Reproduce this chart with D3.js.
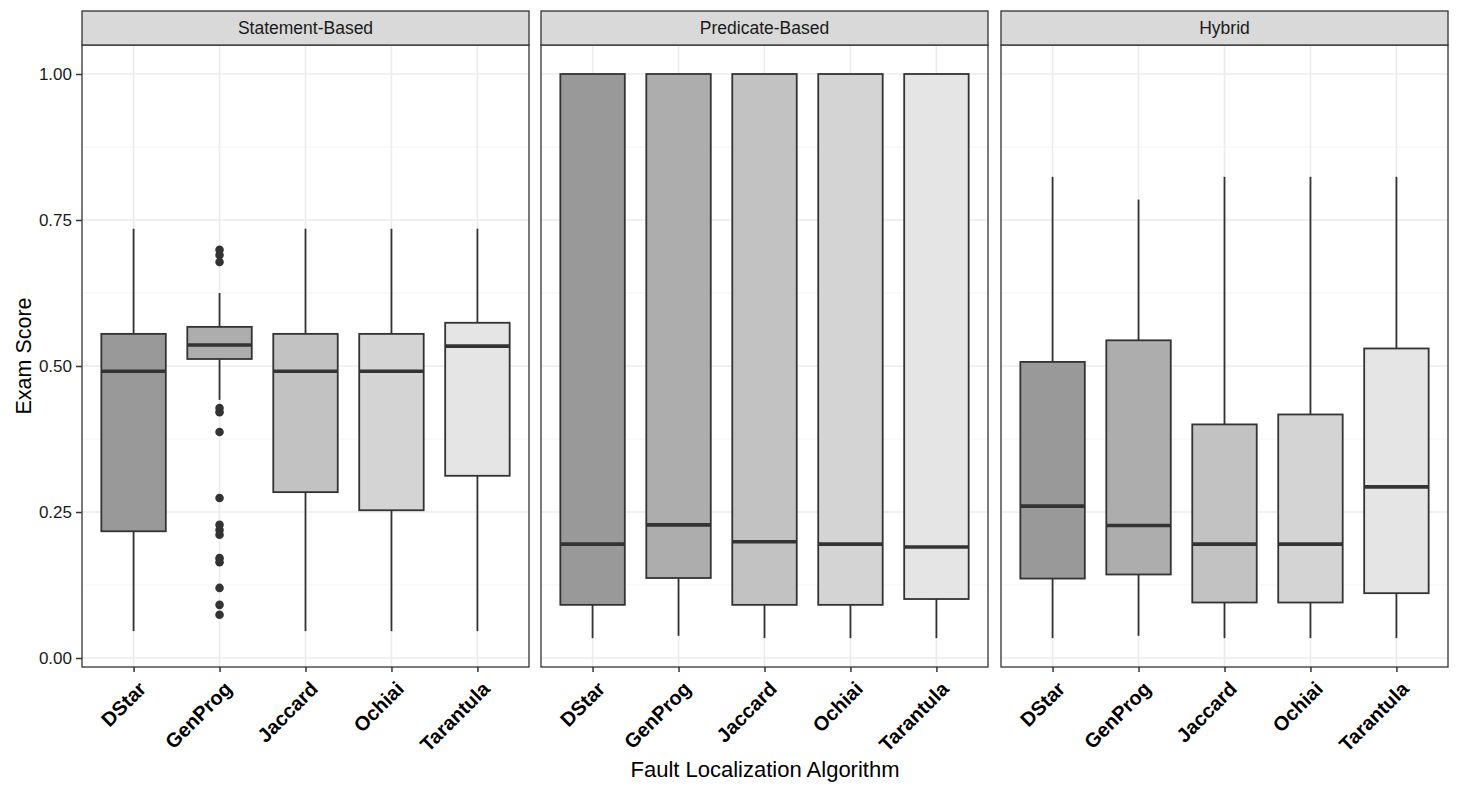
<!DOCTYPE html>
<html>
<head>
<meta charset="utf-8">
<title>exam score boxplots</title>
<script src="https://cdn.jsdelivr.net/npm/d3@7"></script>
<style>
	body, html{
		margin: 0;
		padding: 0;
		background: #fff;
		font-family: "Liberation Sans", Arial, sans-serif;
	}
	svg{
		display: block;
	}
</style>
</head>
<body>
<svg id="chart" width="1459" height="790"></svg>
<script>
// data
var facets = ['Statement-Based', 'Predicate-Based', 'Hybrid'],
	algorithms = ['DStar', 'GenProg', 'Jaccard', 'Ochiai', 'Tarantula'],
	fills = ['#999999', '#adadad', '#c2c2c2', '#d4d4d4', '#e5e5e5'],
	yTicks = [0, 0.25, 0.5, 0.75, 1],
	yMinor = [0.125, 0.375, 0.625, 0.875];

// one row per facet, one value per algorithm
var whiskerLow = [
	[0.046, 0.442, 0.046, 0.046, 0.046],
	[0.034, 0.038, 0.034, 0.034, 0.034],
	[0.034, 0.038, 0.034, 0.034, 0.034]
];
var q1 = [
	[0.217, 0.512, 0.284, 0.253, 0.312],
	[0.091, 0.137, 0.091, 0.091, 0.101],
	[0.136, 0.143, 0.095, 0.095, 0.111]
];
var median = [
	[0.491, 0.536, 0.491, 0.491, 0.534],
	[0.195, 0.228, 0.199, 0.195, 0.190],
	[0.260, 0.227, 0.195, 0.195, 0.293]
];
var q3 = [
	[0.555, 0.567, 0.555, 0.555, 0.574],
	[1.000, 1.000, 1.000, 1.000, 1.000],
	[0.507, 0.544, 0.400, 0.417, 0.530]
];
var whiskerHigh = [
	[0.735, 0.625, 0.735, 0.735, 0.735],
	[1.000, 1.000, 1.000, 1.000, 1.000],
	[0.824, 0.785, 0.824, 0.824, 0.824]
];
// outliers: GenProg, Statement-Based
var genProgOutliers = [0.699, 0.690, 0.678, 0.428, 0.421, 0.387, 0.274,
	0.228, 0.219, 0.211, 0.171, 0.164, 0.120, 0.091, 0.074];

var svg = d3.select('#chart'),
	panelTop = 45,
	panelBottom = 667,
	stripTop = 11,
	panelLefts = [82, 541, 1001],
	panelWidth = 447,
	dark = '#333333';

var y = d3.scaleLinear().domain([0, 1]).range([658, 74]);

facets.forEach(function (facet, f) {
	var left = panelLefts[f],
		x = d3.scalePoint().domain(algorithms)
			.range([left, left + panelWidth]).padding(0.6),
		step = x.step(),
		boxW = step * 0.75,
		g = svg.append('g');

	// background grid
	g.selectAll('line.minor').data(yMinor).enter().append('line')
		.attr('x1', left).attr('x2', left + panelWidth)
		.attr('y1', y).attr('y2', y)
		.attr('stroke', '#f4f4f4').attr('stroke-width', 1);
	g.selectAll('line.major').data(yTicks).enter().append('line')
		.attr('x1', left).attr('x2', left + panelWidth)
		.attr('y1', y).attr('y2', y)
		.attr('stroke', '#ebebeb').attr('stroke-width', 1.6);
	g.selectAll('line.vmajor').data(algorithms).enter().append('line')
		.attr('x1', x).attr('x2', x)
		.attr('y1', panelTop).attr('y2', panelBottom)
		.attr('stroke', '#ebebeb').attr('stroke-width', 1.6);

	// boxes
	algorithms.forEach(function (alg, i) {
		var cx = x(alg);
		// whiskers
		g.append('line')
			.attr('x1', cx).attr('x2', cx)
			.attr('y1', y(q3[f][i])).attr('y2', y(whiskerHigh[f][i]))
			.attr('stroke', dark).attr('stroke-width', 1.8);
		g.append('line')
			.attr('x1', cx).attr('x2', cx)
			.attr('y1', y(q1[f][i])).attr('y2', y(whiskerLow[f][i]))
			.attr('stroke', dark).attr('stroke-width', 1.8);
		g.append('rect')
			.attr('x', cx - boxW / 2)
			.attr('y', y(q3[f][i]))
			.attr('width', boxW)
			.attr('height', y(q1[f][i]) - y(q3[f][i]))
			.attr('fill', fills[i])
			.attr('stroke', dark).attr('stroke-width', 1.8);
		g.append('line')
			.attr('x1', cx - boxW / 2).attr('x2', cx + boxW / 2)
			.attr('y1', y(median[f][i])).attr('y2', y(median[f][i]))
			.attr('stroke', dark).attr('stroke-width', 3.6);

		if (f === 0 && alg === 'GenProg') {
			g.selectAll('circle.out').data(genProgOutliers).enter().append('circle')
				.attr('cx', cx).attr('cy', y).attr('r', 4.3)
				.attr('fill', dark);
		}
	});

	// panel border
	g.append('rect')
		.attr('x', left).attr('y', panelTop)
		.attr('width', panelWidth).attr('height', panelBottom - panelTop)
		.attr('fill', 'none').attr('stroke', dark).attr('stroke-width', 1.3);

	// strip
	g.append('rect')
		.attr('x', left).attr('y', stripTop)
		.attr('width', panelWidth).attr('height', panelTop - stripTop)
		.attr('fill', '#d9d9d9').attr('stroke', dark).attr('stroke-width', 1.3);
	g.append('text')
		.attr('x', left + panelWidth / 2).attr('y', (stripTop + panelTop) / 2)
		.attr('dy', '0.35em')
		.attr('text-anchor', 'middle')
		.attr('font-size', 17.5).attr('fill', '#1a1a1a')
		.text(facet);

	// x axis
	var xAxis = d3.axisBottom(x).tickSize(5).tickPadding(4);
	var ax = g.append('g').attr('transform', 'translate(0,' + panelBottom + ')').call(xAxis);
	ax.select('.domain').remove();
	ax.selectAll('.tick line').attr('stroke', dark).attr('stroke-width', 1.5);
	ax.selectAll('.tick text')
		.attr('font-family', '"Liberation Sans", Arial, sans-serif')
		.attr('font-size', 20).attr('font-weight', 'bold').attr('fill', '#000')
		.attr('text-anchor', 'end')
		.attr('transform', 'translate(3,13) rotate(-45)')
		.attr('y', 0).attr('x', 0).attr('dy', '0.72em');

	// y axis only on first panel
	if (f === 0) {
		var yAxis = d3.axisLeft(y).tickValues(yTicks).tickFormat(d3.format('.2f'))
			.tickSize(6).tickPadding(4);
		var ay = g.append('g').attr('transform', 'translate(' + left + ',0)').call(yAxis);
		ay.select('.domain').remove();
		ay.selectAll('.tick line').attr('stroke', dark).attr('stroke-width', 1.5);
		ay.selectAll('.tick text')
			.attr('font-family', '"Liberation Sans", Arial, sans-serif')
			.attr('font-size', 17).attr('fill', '#1a1a1a');
	}
});

// axis titles
svg.append('text')
	.attr('x', (panelLefts[0] + panelLefts[2] + panelWidth) / 2)
	.attr('y', 777)
	.attr('text-anchor', 'middle')
	.attr('font-size', 22).attr('fill', '#000')
	.text('Fault Localization Algorithm');

svg.append('text')
	.attr('transform', 'translate(31,' + ((panelTop + panelBottom) / 2) + ') rotate(-90)')
	.attr('text-anchor', 'middle')
	.attr('font-size', 21.5).attr('fill', '#000')
	.text('Exam Score');
</script>
</body>
</html>
